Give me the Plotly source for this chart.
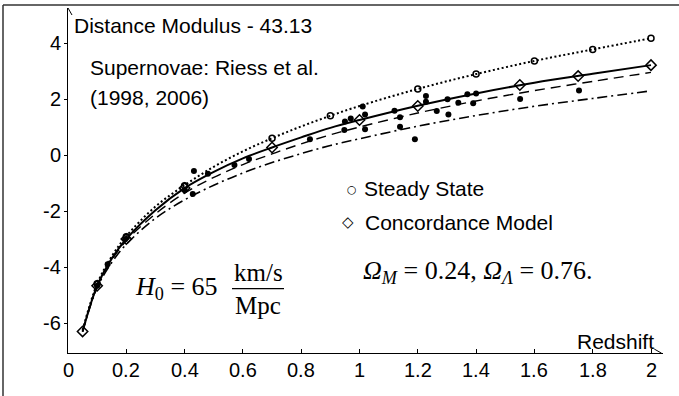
import plotly.graph_objects as go

# ---- data ----
z_curve = [0.05, 0.1, 0.15, 0.2, 0.3, 0.4, 0.5, 0.6, 0.7, 0.8, 0.9, 1.0, 1.2, 1.4, 1.6, 1.8, 2.0]
steady_curve = [-6.25, -4.6, -3.62, -2.9, -1.84, -1.08, -0.42, 0.13, 0.6, 1.02, 1.40, 1.75, 2.36, 2.89, 3.36, 3.77, 4.17]
concord_curve = [-6.3, -4.67, -3.7, -3.0, -1.97, -1.18, -0.6, -0.12, 0.27, 0.63, 0.97, 1.25, 1.76, 2.2, 2.58, 2.9, 3.21]
dashed_curve = [-6.3, -4.69, -3.75, -3.06, -2.1, -1.36, -0.8, -0.34, 0.04, 0.4, 0.72, 1.0, 1.5, 1.93, 2.3, 2.63, 2.95]
dashdot_curve = [-6.31, -4.74, -3.84, -3.19, -2.26, -1.6, -1.08, -0.64, -0.27, 0.05, 0.34, 0.58, 1.03, 1.41, 1.74, 2.02, 2.29]

steady_z = [0.1, 0.2, 0.4, 0.7, 0.9, 1.2, 1.4, 1.6, 1.8, 2.0]
steady_mu = [-4.6, -2.92, -1.1, 0.6, 1.40, 2.36, 2.89, 3.36, 3.77, 4.17]

concord_z = [0.05, 0.1, 0.2, 0.4, 0.7, 1.0, 1.2, 1.55, 1.75, 2.0]
concord_mu = [-6.3, -4.67, -3.0, -1.18, 0.27, 1.25, 1.75, 2.5, 2.82, 3.21]

riess_z = [0.10, 0.136, 0.196, 0.40, 0.428, 0.432, 0.48, 0.571, 0.621, 0.83, 0.948, 0.95, 0.97,
           1.011, 1.019, 1.019, 1.12, 1.139, 1.139, 1.19, 1.228, 1.228, 1.265, 1.302, 1.305,
           1.339, 1.37, 1.39, 1.40, 1.551, 1.753]
riess_mu = [-4.67, -3.90, -3.01, -1.25, -1.39, -0.57, -0.67, -0.36, -0.14, 0.56, 0.89, 1.20, 1.30,
            1.73, 1.45, 0.92, 1.58, 1.35, 1.01, 0.56, 2.11, 1.90, 1.57, 1.99, 1.45,
            1.87, 2.17, 1.85, 2.20, 2.0, 2.30]

x_ticks = [0, 0.2, 0.4, 0.6, 0.8, 1.0, 1.2, 1.4, 1.6, 1.8, 2.0]
x_ticktext = ["0", "0.2", "0.4", "0.6", "0.8", "1", "1.2", "1.4", "1.6", "1.8", "2"]
y_ticks = [-6, -4, -2, 0, 2, 4]
y_ticktext = ["-6", "-4", "-2", "0", "2", "4"]

SANS = "Liberation Sans, Arial, sans-serif"
SERIF = "Liberation Serif, Times New Roman, serif"
BLK = "#000000"

fig = go.Figure()

fig.add_trace(go.Scatter(x=z_curve, y=dashdot_curve, mode="lines", line=dict(color=BLK, width=1.6, dash="10px,4px,2px,4px", shape="spline")))
fig.add_trace(go.Scatter(x=z_curve, y=dashed_curve, mode="lines", line=dict(color=BLK, width=1.4, dash="10px,6px", shape="spline")))
fig.add_trace(go.Scatter(x=z_curve, y=steady_curve, mode="lines", line=dict(color=BLK, width=2, dash="2px,2.5px", shape="spline")))
fig.add_trace(go.Scatter(x=z_curve, y=concord_curve, mode="lines", line=dict(color=BLK, width=2, shape="spline")))

fig.add_trace(go.Scatter(x=riess_z, y=riess_mu, mode="markers", marker=dict(symbol="circle", size=6, color=BLK)))
fig.add_trace(go.Scatter(x=steady_z, y=steady_mu, mode="markers",
                         marker=dict(symbol="circle-open", size=6, color=BLK, line=dict(width=1.5, color=BLK))))
fig.add_trace(go.Scatter(x=concord_z, y=concord_mu, mode="markers",
                         marker=dict(symbol="diamond-open", size=8, color=BLK, line=dict(width=1.5, color=BLK))))

annots = [
    dict(text="Distance Modulus - 43.13", x=0.0137, y=4.64, xanchor="left", yanchor="middle", font=dict(family=SANS, size=21)),
    dict(text="Supernovae: Riess et al.", x=0.0686, y=3.11, xanchor="left", yanchor="middle", font=dict(family=SANS, size=21)),
    dict(text="(1998, 2006)", x=0.0686, y=2.07, xanchor="left", yanchor="middle", font=dict(family=SANS, size=21)),
    dict(text="Steady State", x=(362 - 68) / 291.5, y=(155 - 188) / 28, xanchor="left", yanchor="middle", font=dict(family=SANS, size=21)),
    dict(text="Concordance Model", x=(363 - 68) / 291.5, y=(155 - 222) / 28, xanchor="left", yanchor="middle", font=dict(family=SANS, size=21)),
    dict(text="○", x=(352 - 68) / 291.5, y=(155 - 189) / 28, xanchor="center", yanchor="middle", font=dict(family="DejaVu Sans", size=11)),
    dict(text="◇", x=(348 - 68) / 291.5, y=(155 - 222) / 28, xanchor="center", yanchor="middle", font=dict(family="DejaVu Sans", size=15)),
    dict(text="Redshift", x=(656 - 68) / 291.5, y=(155 - 341) / 28, xanchor="right", yanchor="middle", font=dict(family=SANS, size=21)),
    dict(text="<i>Ω</i><sub><i>M</i></sub> = 0.24, <i>Ω</i><sub><i>Λ</i></sub> = 0.76.", x=(361 - 68) / 291.5, y=(155 - 272) / 28,
         xanchor="left", yanchor="middle", font=dict(family=SERIF, size=26)),
    dict(text="<i>H</i><sub>0</sub> = 65", x=(133 - 68) / 291.5, y=(155 - 288) / 28, xanchor="left", yanchor="middle", font=dict(family=SERIF, size=26)),
    dict(text="km/s", x=(258 - 68) / 291.5, y=(155 - 272) / 28, xanchor="center", yanchor="middle", font=dict(family=SERIF, size=25)),
    dict(text="Mpc", x=(258 - 68) / 291.5, y=(155 - 305) / 28, xanchor="center", yanchor="middle", font=dict(family=SERIF, size=25)),
]
for a in annots:
    a.update(xref="x", yref="y", showarrow=False)
    a["font"]["color"] = BLK

# tick labels placed as text at the axis tick positions
for v, t in zip(x_ticks, x_ticktext):
    annots.append(dict(text=t, x=v, xref="x", y=0, yref="paper", yanchor="top", xanchor="center",
                       yshift=-4, showarrow=False, font=dict(family=SANS, size=20, color=BLK)))
for v, t in zip(y_ticks, y_ticktext):
    annots.append(dict(text=t, x=0, xref="paper", y=v, yref="y", yanchor="middle", xanchor="right",
                       xshift=-5, showarrow=False, font=dict(family=SANS, size=20, color=BLK)))
fig.update_layout(annotations=annots)

Y0 = -7.07
Y1 = 5.25
shapes = [
    # fraction bar
    dict(type="line", xref="x", yref="y", x0=(232 - 68) / 291.5, x1=(284 - 68) / 291.5, y0=(155 - 288.5) / 28, y1=(155 - 288.5) / 28,
         line=dict(color=BLK, width=1.2)),
    # arrow heads
    dict(type="line", xref="x", yref="y", xsizemode="pixel", ysizemode="pixel", xanchor=0, yanchor=Y1,
         x0=0, x1=-4, y0=0, y1=-7, line=dict(color=BLK, width=1)),
    dict(type="line", xref="x", yref="y", xsizemode="pixel", ysizemode="pixel", xanchor=0, yanchor=Y1,
         x0=0, x1=4, y0=0, y1=-7, line=dict(color=BLK, width=1)),
    dict(type="line", xref="paper", yref="y", xsizemode="pixel", ysizemode="pixel", xanchor=0.997, yanchor=Y0,
         x0=0, x1=-7, y0=0, y1=4, line=dict(color=BLK, width=1)),
    dict(type="line", xref="paper", yref="y", xsizemode="pixel", ysizemode="pixel", xanchor=0.997, yanchor=Y0,
         x0=0, x1=-7, y0=0, y1=-4, line=dict(color=BLK, width=1)),
    # outer frame (top and left)
    dict(type="line", xref="paper", yref="paper", x0=(3 - 68) / 595, x1=(679 - 68) / 595, y0=(353 - 5) / 345, y1=(353 - 5) / 345,
         line=dict(color="#333333", width=1.5)),
    dict(type="line", xref="paper", yref="paper", x0=(3 - 68) / 595, x1=(3 - 68) / 595, y0=(353 - 5) / 345, y1=(353 - 400) / 345,
         line=dict(color="#333333", width=1.5)),
]
fig.update_layout(shapes=shapes)

fig.update_layout(
    width=679, height=396,
    margin=dict(l=68, r=16, t=8, b=43),
    paper_bgcolor="white", plot_bgcolor="white",
    showlegend=False,
    xaxis=dict(range=[0, 595 / 291.5], tickvals=x_ticks, showticklabels=False, ticks="inside", ticklen=4,
               tickcolor=BLK, showline=True, linecolor=BLK, linewidth=1.3, showgrid=False, zeroline=False),
    yaxis=dict(range=[Y0, Y1], tickvals=y_ticks, showticklabels=False, ticks="outside", ticklen=3,
               tickcolor=BLK, showline=True, linecolor=BLK, linewidth=1.3, showgrid=False, zeroline=False),
)

fig.write_html("out.html")
